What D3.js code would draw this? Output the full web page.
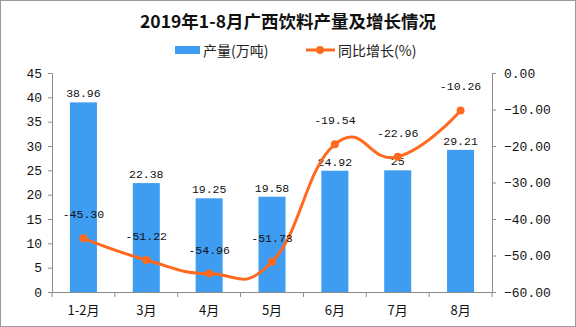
<!DOCTYPE html>
<html><head><meta charset="utf-8">
<script src="https://cdn.jsdelivr.net/npm/d3@7/dist/d3.min.js"></script>
<style>body{margin:0;background:#fff}svg{display:block}text{font-family:"Noto Sans CJK SC","DejaVu Sans",sans-serif}</style>
</head><body>
<svg id="c" width="576" height="327"></svg>
<script>
const categories = ["1-2月","3月","4月","5月","6月","7月","8月"];
const output = [38.96,22.38,19.25,19.58,24.92,25,29.21];
const growth = [-45.30,-51.22,-54.96,-51.73,-19.54,-22.96,-10.26];
const outputLabels = ["38.96","22.38","19.25","19.58","24.92","25","29.21"];
const growthLabels = ["-45.30","-51.22","-54.96","-51.73","-19.54","-22.96","-10.26"];
const leftTicks = [0,5,10,15,20,25,30,35,40,45];
const rightTicks = [0,-10,-20,-30,-40,-50,-60];

const svg = d3.select("#c");
const L=52, R=492, T=73, B=292;
const blue="#3e9df0", orange="#ff6a1e", axisC="#8c8c8c";

svg.append("rect").attr("x",0.5).attr("y",0.5).attr("width",575).attr("height",326).attr("fill","none").attr("stroke","#9a9a9a");

svg.append("text").attr("x",288).attr("y",28).attr("text-anchor","middle")
  .style("font-size","17.5px").style("font-weight","bold").attr("fill","#111").text("2019年1-8月广西饮料产量及增长情况");

// legend
svg.append("rect").attr("x",175).attr("y",46).attr("width",25).attr("height",8).attr("fill",blue);
svg.append("text").attr("x",203).attr("y",55.5).style("font-size","14px").attr("fill","#222").text("产量(万吨)");
svg.append("line").attr("x1",306).attr("x2",335).attr("y1",50).attr("y2",50).attr("stroke",orange).attr("stroke-width",3);
svg.append("circle").attr("cx",320).attr("cy",50).attr("r",4).attr("fill",orange);
svg.append("text").attr("x",338).attr("y",55.5).style("font-size","14px").attr("fill","#222").text("同比增长(%)");

const x = d3.scaleBand().domain(categories).range([L,R]).paddingInner(0.57).paddingOuter(0.285);
const xb = d3.scaleBand().domain(categories).range([L,R]);
const yL = d3.scaleLinear().domain([0,45]).range([B,T]);
const yR = d3.scaleLinear().domain([-60,0]).range([B,T]);

// bars
svg.selectAll(".bar").data(output).join("rect")
  .attr("x",(d,i)=>x(categories[i])).attr("width",x.bandwidth())
  .attr("y",d=>yL(d)).attr("height",d=>B-yL(d)).attr("fill",blue);

// axes
const gl = svg.append("g").attr("transform",`translate(${L},0)`)
  .call(d3.axisLeft(yL).tickValues(leftTicks).tickSize(4).tickPadding(6).tickSizeOuter(0));
const gr = svg.append("g").attr("transform",`translate(${R},0)`)
  .call(d3.axisRight(yR).tickValues(rightTicks).tickSize(4).tickPadding(8).tickSizeOuter(0).tickFormat(d3.format(".2f")));
const gx = svg.append("g").attr("transform",`translate(0,${B})`)
  .call(d3.axisBottom(xb).tickSize(0).tickPadding(14).tickSizeOuter(0));
const bounds = categories.map(c=>xb(c)).concat([R]);
svg.selectAll(".bt").data(bounds).join("line").attr("x1",d=>d).attr("x2",d=>d)
  .attr("y1",B).attr("y2",B+5).attr("stroke",axisC);
[gl,gr,gx].forEach(g=>{
  g.selectAll("path,line").attr("stroke",axisC);
  g.selectAll("text").style("font-size","13px").attr("fill","#111").style("font-family","'Liberation Mono','DejaVu Sans Mono',monospace");
});
gx.selectAll("text").style("font-family","'Noto Sans CJK SC',sans-serif");

// bar labels
svg.selectAll(".bl").data(output).join("text")
  .attr("x",(d,i)=>x(categories[i])+x.bandwidth()/2).attr("y",d=>yL(d)-5)
  .attr("text-anchor","middle").style("font-size","11.5px").style("font-family","'Liberation Mono','DejaVu Sans Mono',monospace").attr("fill","#111")
  .text((d,i)=>outputLabels[i]);

// line
const cx = c=>xb(c)+xb.bandwidth()/2;
const line = d3.line().x((d,i)=>cx(categories[i])).y(d=>yR(d)).curve(d3.curveCardinal.tension(-0.4));
svg.append("path").datum(growth).attr("d",line).attr("fill","none").attr("stroke",orange).attr("stroke-width",3);
svg.selectAll(".pt").data(growth).join("circle")
  .attr("cx",(d,i)=>cx(categories[i])).attr("cy",d=>yR(d)).attr("r",4).attr("fill",orange);
svg.selectAll(".gl").data(growth).join("text")
  .attr("x",(d,i)=>cx(categories[i])).attr("y",d=>yR(d)-20)
  .attr("text-anchor","middle").style("font-size","11.5px").style("font-family","'Liberation Mono','DejaVu Sans Mono',monospace").attr("fill","#111")
  .text((d,i)=>growthLabels[i]);
</script>
</body></html>
